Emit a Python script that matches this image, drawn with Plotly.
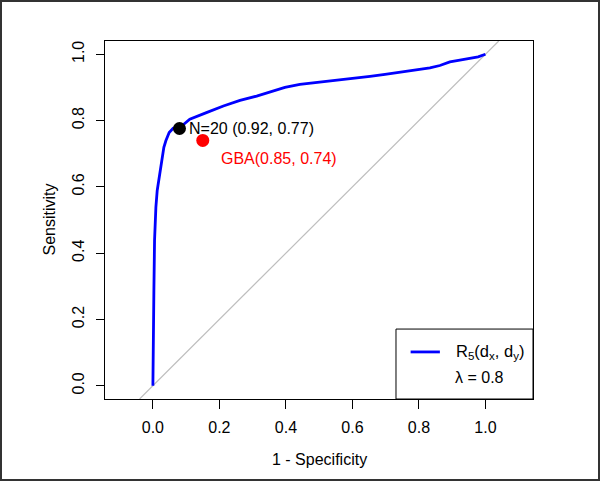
import plotly.graph_objects as go

# ROC curve (1 - specificity, sensitivity)
fpr = [0.0, 0.001, 0.003, 0.005, 0.006, 0.009, 0.013, 0.019, 0.024, 0.029, 0.033,
       0.039, 0.049, 0.061, 0.075, 0.091, 0.111, 0.136, 0.161, 0.212, 0.262, 0.312,
       0.352, 0.397, 0.442, 0.487, 0.532, 0.577, 0.623, 0.653, 0.698, 0.743, 0.788,
       0.833, 0.863, 0.893, 0.923, 0.953, 0.978, 1.0]
tpr = [0.0, 0.188, 0.288, 0.438, 0.489, 0.538, 0.589, 0.629, 0.659, 0.689, 0.719,
       0.739, 0.764, 0.777, 0.781, 0.787, 0.804, 0.815, 0.824, 0.844, 0.861, 0.874,
       0.887, 0.900, 0.909, 0.914, 0.919, 0.923, 0.928, 0.933, 0.939, 0.946, 0.952,
       0.959, 0.966, 0.977, 0.982, 0.987, 0.992, 1.0]

n20_point = (0.08, 0.776)
n20_label = "N=20 (0.92, 0.77)"
gba_point = (0.15, 0.74)
gba_label = "GBA(0.85, 0.74)"

tick_vals = [0.0, 0.2, 0.4, 0.6, 0.8, 1.0]
tick_text = ["0.0", "0.2", "0.4", "0.6", "0.8", "1.0"]

FONT = "Liberation Sans, Arial, sans-serif"
FS = 16

fig = go.Figure()

# chance diagonal (abline 0,1) clipped to plot region
fig.add_shape(type="line", x0=-0.04, y0=-0.04, x1=1.04, y1=1.04,
              line=dict(color="#BEBEBE", width=1.2), layer="below")

fig.add_trace(go.Scatter(x=fpr, y=tpr, mode="lines",
                         line=dict(color="#0000FF", width=2.8),
                         showlegend=False, hoverinfo="skip"))

fig.add_trace(go.Scatter(x=[n20_point[0]], y=[n20_point[1]], mode="markers",
                         marker=dict(color="black", size=13), showlegend=False))
fig.add_trace(go.Scatter(x=[gba_point[0]], y=[gba_point[1]], mode="markers",
                         marker=dict(color="#FF0000", size=13), showlegend=False))

fig.add_annotation(x=n20_point[0], y=n20_point[1], text=n20_label, showarrow=False,
                   xanchor="left", yanchor="middle", xshift=8,
                   font=dict(family=FONT, size=FS, color="black"))
fig.add_annotation(x=0.2, y=0.686, text=gba_label, showarrow=False,
                   xanchor="left", yanchor="middle",
                   font=dict(family=FONT, size=FS, color="#FF0000"))

# legend box (drawn manually, R style)
fig.add_shape(type="rect", x0=0.731, x1=1.143, y0=-0.04, y1=0.171,
              line=dict(color="black", width=1), fillcolor="white", layer="above")
fig.add_shape(type="line", x0=0.775, x1=0.863, y0=0.102, y1=0.102,
              line=dict(color="#0000FF", width=2.8))
fig.add_annotation(x=0.906, y=0.102, text="R<sub>5</sub>(d<sub>x</sub>, d<sub>y</sub>)",
                   showarrow=False, xanchor="left", yanchor="middle",
                   font=dict(family=FONT, size=FS + 0.5, color="black"))
fig.add_annotation(x=0.903, y=0.024, text="λ = 0.8",
                   showarrow=False, xanchor="left", yanchor="middle",
                   font=dict(family=FONT, size=FS, color="black"))

# axis titles
fig.add_annotation(xref="paper", yref="paper", x=0.5, y=-60 / 358, text="1 - Specificity",
                   showarrow=False, xanchor="center", yanchor="middle",
                   font=dict(family=FONT, size=FS, color="black"))
fig.add_annotation(xref="paper", yref="paper", x=-56.5 / 428, y=0.5, text="Sensitivity",
                   showarrow=False, xanchor="center", yanchor="middle", textangle=-90,
                   font=dict(family=FONT, size=FS, color="black"))

# outer dark frame of the image
L, T, W, H = 105, 41, 428, 358
def px(xp):
    return (xp - L) / W
def py(yp):
    return (T + H - yp) / H
fig.add_shape(type="rect", xref="paper", yref="paper",
              x0=px(1), x1=px(599), y0=py(480), y1=py(1),
              line=dict(color="#333333", width=2), layer="above")

fig.update_xaxes(range=[-0.144, 1.143], tickvals=tick_vals, ticktext=tick_text,
                 showgrid=False, zeroline=False, showline=True, mirror=True,
                 linecolor="black", linewidth=1, ticks="outside", ticklen=9,
                 tickcolor="black", tickwidth=1, ticklabelstandoff=5,
                 tickfont=dict(family=FONT, size=FS, color="black"))
fig.update_yaxes(range=[-0.04, 1.04], tickvals=tick_vals, ticktext=tick_text,
                 showgrid=False, zeroline=False, showline=True, mirror=True,
                 linecolor="black", linewidth=1, ticks="outside", ticklen=8,
                 tickcolor="black", tickwidth=1, tickangle=-90, ticklabelstandoff=6,
                 tickfont=dict(family=FONT, size=FS, color="black"))

fig.update_layout(width=600, height=481,
                  margin=dict(l=L, r=600 - L - W, t=T, b=481 - T - H),
                  plot_bgcolor="white", paper_bgcolor="white",
                  showlegend=False)

fig.write_html("out.html", config={"displayModeBar": False},
               post_script="document.body.style.margin='0';")
